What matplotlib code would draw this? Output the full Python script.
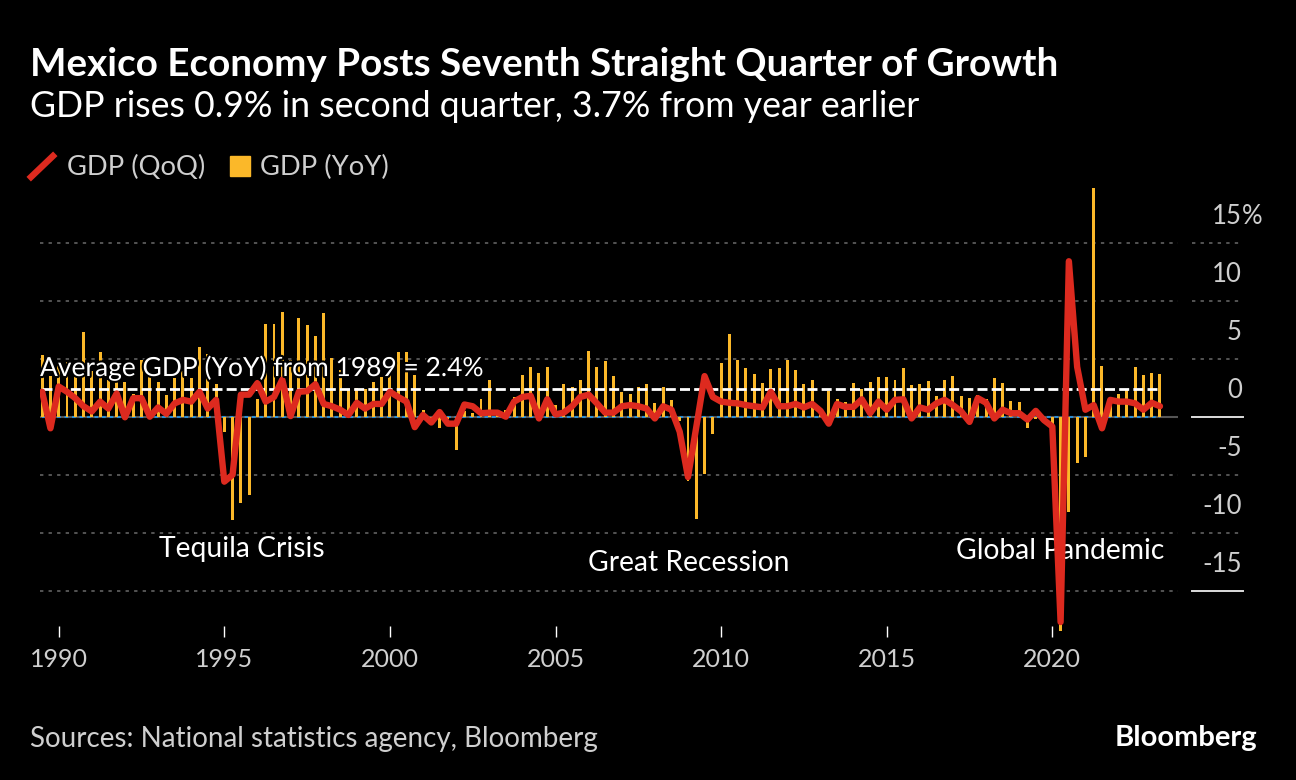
import numpy as np
import matplotlib.pyplot as plt
from matplotlib.lines import Line2D
from matplotlib.patches import Rectangle
import matplotlib.patheffects as pe

plt.rcParams['font.family'] = ['Lato', 'DejaVu Sans']

# quarterly data, 1989 Q3 .. 2023 Q2
start_year, start_q = 1989, 3
gdp_yoy = [
    5.3, 3.5,
    4.6, 4.7, 4.0, 7.3,   3.9, 5.6, 3.2, 3.5,   3.0, 2.0, 4.9, 3.4,   3.0, 1.9, 3.3, 3.9,
    3.3, 6.0, 5.4, 2.8,   -1.3, -8.9, -7.4, -6.75, 1.5, 8.0, 8.0, 9.05, 4.9, 8.5, 7.9, 7.0,
    8.9, 5.1, 4.0, 2.3,   2.5, 2.4, 3.0, 3.4,   4.0, 5.6, 5.6, 3.6,   0.6, -0.2, -1.0, -0.2,
    -2.9, 0.5, 0.3, 1.5,  3.2, 0.3, 0.6, 1.7,   3.6, 4.25, 3.8, 4.3,  1.0, 2.8, 2.6, 3.2,
    5.7, 4.3, 4.8, 3.5,   2.1, 2.0, 2.6, 2.8,   1.2, 2.6, 1.4, -0.4,  -5.5, -8.8, -4.9, -1.5,
    4.6, 7.1, 4.9, 4.2,   3.7, 2.9, 4.1, 4.2,   4.9, 4.0, 2.8, 3.2,   0.7, 2.2, 1.5, 1.3,
    2.9, 2.4, 3.0, 3.4,   3.4, 3.2, 4.2, 2.7,   2.8, 3.1, 1.8, 3.2,   3.5, 1.8, 1.6, 1.9,
    1.5, 3.3, 2.9, 1.35,  1.3, -1.0, -0.2, -0.5, -0.8, -18.5, -8.2, -4.0, -3.45, 19.7, 4.4, 1.4,
    1.95, 2.4, 4.3, 3.6,  3.8, 3.7,
]
gdp_qoq = [
    2.15, -1.0,
    2.6, 2.15, 1.6, 0.9,  0.45, 1.3, 0.7, 2.0,  -0.05, 1.6, 1.6, 0.0,  0.8, 0.25, 1.15, 1.45,
    1.3, 2.15, 0.7, 1.45, -5.6, -5.0, 1.9, 1.9,  2.9, 1.3, 1.7, 3.2,   0.05, 2.15, 2.2, 2.8,
    1.1, 0.9, 0.6, 0.15,  1.2, 0.7, 1.1, 1.1,   2.15, 1.7, 1.3, -0.9,  0.15, -0.5, 0.4, -0.6,
    -0.6, 1.05, 0.9, 0.3, 0.35, 0.35, 0.0, 1.3, 1.7, 1.8, -0.15, 1.5, 0.2, 0.35, 0.9, 1.7,
    1.9, 1.15, 0.35, 0.35, 0.9, 1.0, 0.9, 0.7,  -0.15, 0.9, 0.6, -1.3, -5.2, -0.9, 3.5, 1.7,
    1.3, 1.2, 1.15, 1.0,  0.9, 0.8, 2.15, 0.9,  0.9, 1.1, 0.8, 1.1,    0.5, -0.6, 1.1, 0.85,
    0.85, 1.5, 0.3, 1.3,  0.6, 1.45, 1.5, -0.15, 0.8, 0.6, 1.15, 1.45, 1.0, 0.45, -0.45, 1.6,
    1.2, -0.15, 0.6, 0.3, 0.3, -0.25, 0.5, -0.3, -0.85, -17.7, 13.4, 4.3, 0.6, 1.0, -1.0, 1.45,
    1.3, 1.3, 1.15, 0.6,  1.2, 0.9,
]
avg_yoy = 2.4

year_ticks = [1990, 1995, 2000, 2005, 2010, 2015, 2020]
y_ticks = [15, 10, 5, 0, -5, -10, -15]
y_labels = ['15', '10', '5', '0', '-5', '-10', '-15']

t = start_year + (start_q - 1) / 4 + np.arange(len(gdp_yoy)) / 4

RED = '#dd2a1f'
YELLOW = '#fbb829'
GREY = '#cfcfcf'

W, H = 1296, 780
fig = plt.figure(figsize=(W / 100, H / 100), dpi=100, facecolor='black')
ax = fig.add_axes([40 / W, 1 - 625.5 / H, 1138 / W, (625.5 - 178.9) / H])
ax.set_facecolor('black')
ax.set_xlim(1989.435, 2023.795)
ax.set_ylim(-18, 20.5)
for s in ax.spines.values():
    s.set_visible(False)

# grid
ytr = ax.get_yaxis_transform()
for v, lab in zip(y_ticks, y_labels):
    if v != 0:
        ax.axhline(v, color='#6a6a6a', lw=1.1, ls=(0, (2.2, 3.4)), zorder=1)
    if v in (0, -15):
        ax.plot([1.0123, 1.0571], [v, v], transform=ytr, clip_on=False,
                color='#dddddd', lw=1.4)
    else:
        ax.plot([1.0123, 1.0571], [v, v], transform=ytr, clip_on=False,
                color='#6a6a6a', lw=1.1, ls=(0, (2.2, 3.4)))
    ax.text(1.0562, v + 2.3, lab, transform=ytr, ha='right', va='center',
            color=GREY, fontsize=18.5)
ax.text(1.0562, y_ticks[0] + 2.3, '%', transform=ytr, ha='left', va='center',
        color=GREY, fontsize=18.5)

# zero line
ax.axhline(0, color='#555555', lw=1.5, zorder=1)
ax.plot([t[0], t[-1]], [0, 0], color='#2a8bd1', lw=1.5, dashes=(1.8, 1.8), zorder=1.5)

ax.bar(t, gdp_yoy, width=0.09, color=YELLOW, zorder=2, clip_on=False)
ax.plot([t[0], t[-1]], [avg_yoy, avg_yoy], color='white', lw=2, dashes=(3.6, 1.5), zorder=3)
ax.plot(t, gdp_qoq, color=RED, lw=4.6, solid_joinstyle='round',
        solid_capstyle='round', zorder=4)

ax.text(1989.435, 4.2, f'Average GDP (YoY) from 1989 = {avg_yoy}%', color='white',
        fontsize=19, va='center', ha='left', zorder=5,
        path_effects=[pe.withStroke(linewidth=3, foreground='black')])
ax.text(1995.52, -11.4, 'Tequila Crisis', color='white', fontsize=20.3, ha='center', va='center')
ax.text(2009.02, -12.6, 'Great Recession', color='white', fontsize=20.3, ha='center', va='center')
ax.text(2020.25, -11.6, 'Global Pandemic', color='white', fontsize=20.3, ha='center', va='center')

ax.set_yticks([])
ax.set_xticks(year_ticks)
ax.set_xticklabels([str(y) for y in year_ticks])
ax.tick_params(axis='x', colors='white', length=8, width=1, pad=8,
               labelsize=18, labelcolor=GREY)

# header
fig.text(30 / W, 1 - 75.7 / H, 'Mexico Economy Posts Seventh Straight Quarter of Growth',
         color='white', fontsize=27.8, weight='bold', va='baseline')
fig.text(30 / W, 1 - 117.3 / H, 'GDP rises 0.9% in second quarter, 3.7% from year earlier',
         color='white', fontsize=25.7, va='baseline')

# legend
fig.add_artist(Line2D([31 / W, 53 / W], [1 - 177 / H, 1 - 156 / H], color=RED, lw=4.6))
fig.text(67 / W, 1 - 167 / H, 'GDP (QoQ)', color=GREY, fontsize=19.7, va='center')
fig.add_artist(Rectangle((230 / W, 1 - 176 / H), 20 / W, 20 / H, color=YELLOW,
                         transform=fig.transFigure))
fig.text(260 / W, 1 - 167 / H, 'GDP (YoY)', color=GREY, fontsize=19.7, va='center')

# footer
fig.text(30 / W, 1 - 747.3 / H, 'Sources: National statistics agency, Bloomberg',
         color=GREY, fontsize=20, va='baseline')
fig.text(1257 / W, 1 - 746 / H, 'Bloomberg', color='white', fontsize=21,
         weight='bold', va='baseline', ha='right')

fig.savefig('out.png', dpi=100, facecolor='black')
